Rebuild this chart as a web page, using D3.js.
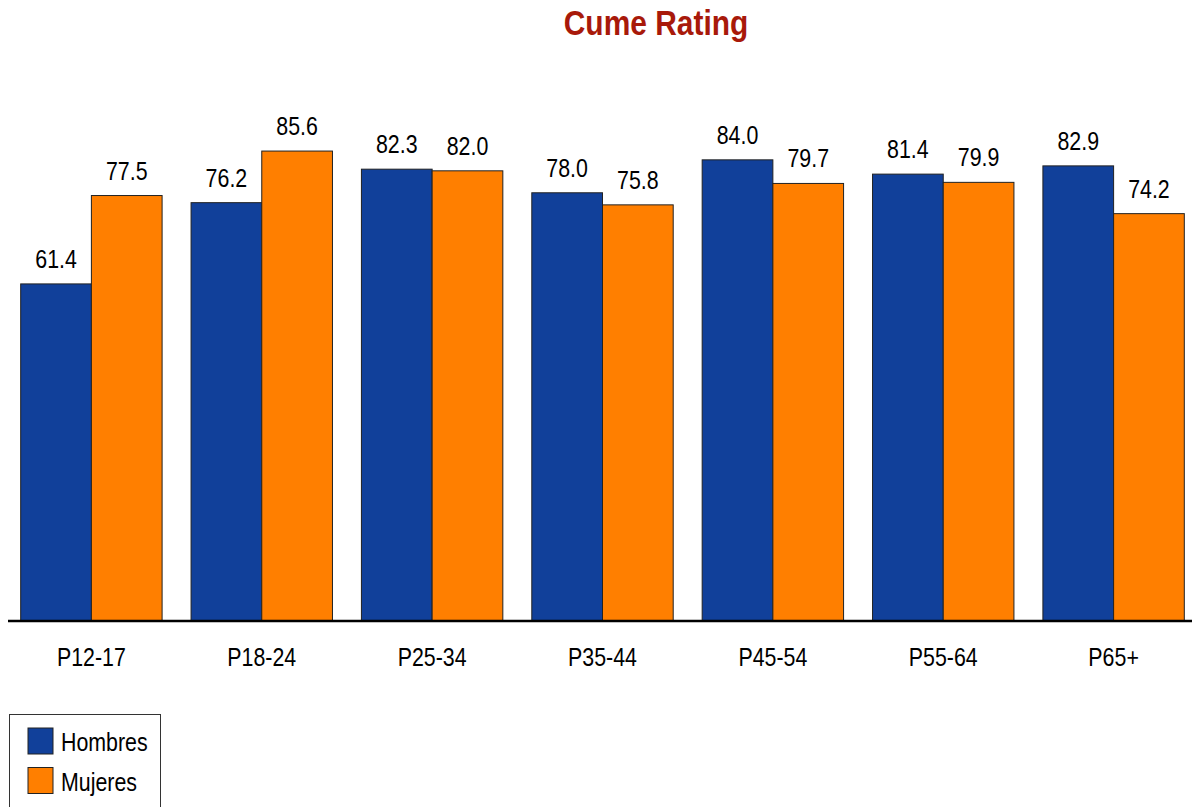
<!DOCTYPE html>
<html><head><meta charset="utf-8">
<script src="https://cdn.jsdelivr.net/npm/d3@7/dist/d3.min.js"></script>
<style>
body{margin:0;background:#fff;}
svg text{font-family:"Liberation Sans",Arial,sans-serif;}
</style></head>
<body><svg id="c" width="1192" height="807"></svg>
<script>
const categories = ["P12-17","P18-24","P25-34","P35-44","P45-54","P55-64","P65+"];
const seriesNames = ["Hombres","Mujeres"];
const hombres = [61.4,76.2,82.3,78.0,84.0,81.4,82.9];
const mujeres = [77.5,85.6,82.0,75.8,79.7,79.9,74.2];
const colors = ["#11409A","#FF7F00"];
const title = "Cume Rating";
const SX = 0.855;

const svg = d3.select("#c");
const x0 = d3.scaleBand().domain(categories).range([8,1197]).paddingInner(0.17).paddingOuter(0.0745);
const x1 = d3.scaleBand().domain(seriesNames).range([0,x0.bandwidth()]);
const y = d3.scaleLinear().domain([0,100]).range([621,72]);

const data = categories.map((c,i)=>({cat:c, vals:[hombres[i],mujeres[i]]}));

const g = svg.selectAll("g.grp").data(data).join("g").attr("class","grp")
  .attr("transform",d=>`translate(${x0(d.cat)},0)`);
g.selectAll("rect").data(d=>d.vals.map((v,j)=>({v,s:seriesNames[j],j}))).join("rect")
  .attr("x",d=>x1(d.s)).attr("width",x1.bandwidth())
  .attr("y",d=>y(d.v)).attr("height",d=>y(0)-y(d.v))
  .attr("fill",d=>colors[d.j]).attr("stroke","#222").attr("stroke-width",1);
g.selectAll("text.val").data(d=>d.vals.map((v,j)=>({v,s:seriesNames[j],j}))).join("text")
  .attr("class","val")
  .attr("transform",d=>`translate(${x1(d.s)+x1.bandwidth()/2},${y(d.v)-16}) scale(${SX},1)`)
  .attr("text-anchor","middle").attr("font-size",25).attr("fill","#000")
  .text(d=>d3.format(".1f")(d.v));

// axis
const xAxis = d3.axisBottom(x0).tickSize(0).tickPadding(0).tickFormat(()=>"");
const ax = svg.append("g").attr("transform","translate(0,621)").call(xAxis);
ax.select(".domain").remove();
ax.selectAll(".tick").append("text").attr("class","cl")
  .attr("transform",`translate(0,45) scale(${SX},1)`)
  .attr("text-anchor","middle").attr("font-size",25).attr("fill","#000")
  .attr("font-family","Liberation Sans, Arial, sans-serif")
  .text(d=>d);
svg.append("line").attr("x1",8).attr("x2",1192).attr("y1",621).attr("y2",621)
  .attr("stroke","#000").attr("stroke-width",2.5);

svg.append("text").attr("transform",`translate(656,35) scale(${SX},1)`).attr("text-anchor","middle")
  .attr("font-size",35).attr("font-weight","bold").attr("fill","#A8190A").text(title);

// legend
const leg = svg.append("g");
leg.append("rect").attr("x",9.5).attr("y",714.5).attr("width",151).attr("height",100)
  .attr("fill","#fff").attr("stroke","#333").attr("stroke-width",1);
seriesNames.forEach((s,i)=>{
  leg.append("rect").attr("x",28).attr("y",728+i*39.5).attr("width",25).attr("height",26)
    .attr("fill",colors[i]).attr("stroke","#222");
  leg.append("text").attr("transform",`translate(61,${751+i*39.5}) scale(${SX},1)`)
    .attr("font-size",25).attr("fill","#000").text(s);
});
</script></body></html>
